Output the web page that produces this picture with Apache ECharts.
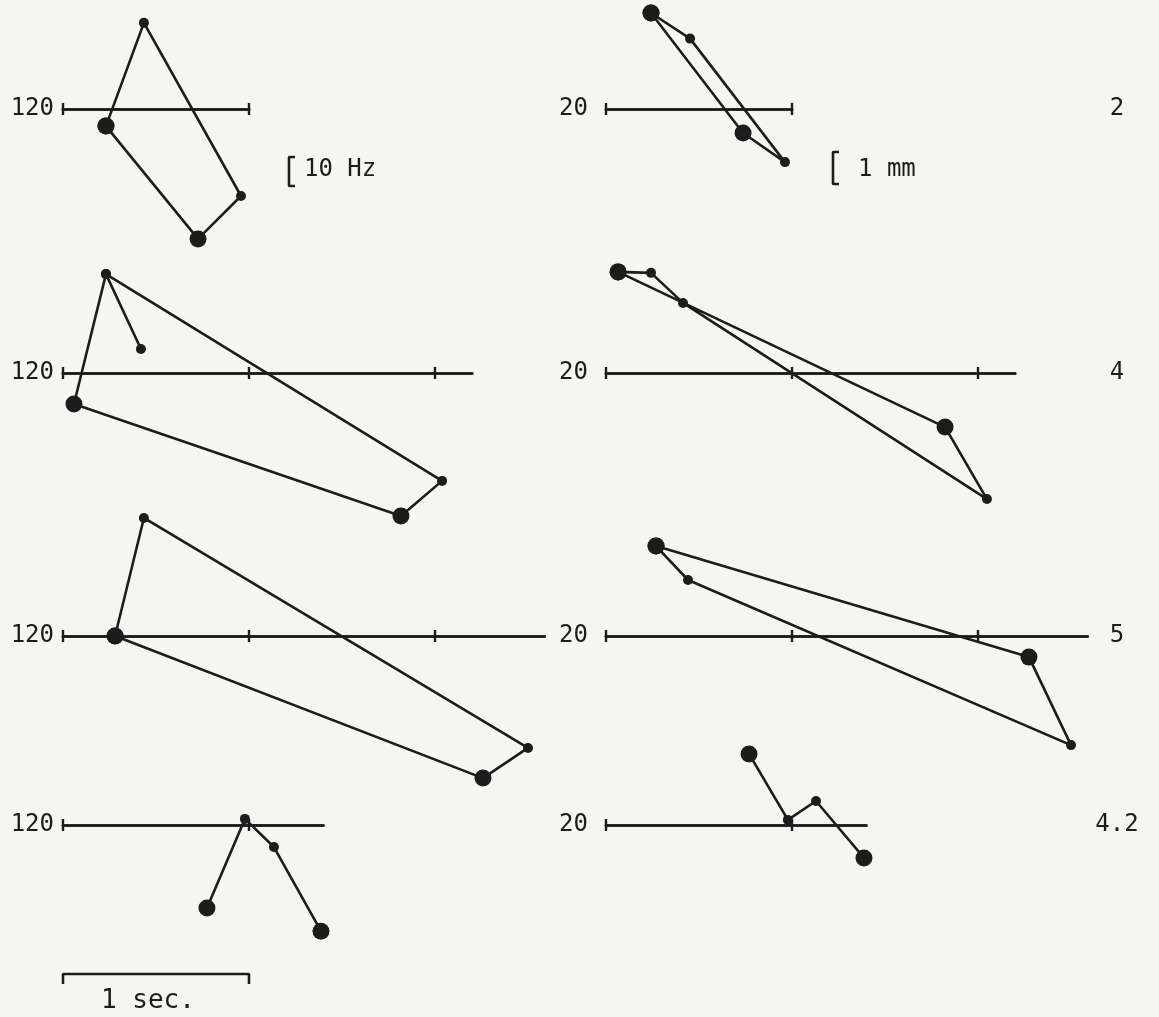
<!DOCTYPE html>
<html>
<head>
<meta charset="utf-8">
<script src="https://cdn.jsdelivr.net/npm/echarts@6/dist/echarts.min.js"></script>
<style>
  html, body { margin: 0; padding: 0; background: #f5f5f2; }
  #chart { width: 1159px; height: 1017px; }
</style>
</head>
<body>
<div id="chart"></div>
<script>
// Reference levels drawn as the baseline of each trace
const BASE_HZ = 120;   // fundamental frequency, Hz
const BASE_MM = 20;    // amplitude, mm

// Utterance labels, one per row
const ROW_LABELS = ['2', '4', '5', '4.2'];
// Length of each row's time baseline (s) and its 1-second ticks
const ROW_SPAN_S = [1.0, 2.2, 2.59, 1.4];
const TICK_S = [0, 1, 2];

// Row 1 — turning points (time s, value); major = large dot
const R1_T_HZ = [0.231, 0.435, 0.957, 0.726, 0.231];
const R1_HZ = [114.1, 149.7, 90.0, 75.2, 114.1];
const R1_MAJOR_HZ = [1, 0, 0, 1, 1];
const R1_T_MM = [0.242, 0.452, 0.962, 0.737, 0.242];
const R1_MM = [23.0, 22.2, 18.34, 19.25, 23.0];
const R1_MAJOR_MM = [1, 0, 0, 1, 1];

// Row 2
const R2_T_HZ = [0.419, 0.231, 2.038, 1.817, 0.059, 0.231];
const R2_HZ = [128.3, 154.1, 82.8, 70.7, 109.3, 154.1];
const R2_MAJOR_HZ = [0, 0, 0, 1, 1, 0];
const R2_T_MM = [0.065, 0.242, 0.414, 2.048, 1.823, 0.065];
const R2_MM = [23.16, 23.13, 22.19, 16.06, 18.31, 23.16];
const R2_MAJOR_MM = [1, 0, 0, 0, 1, 1];

// Row 3
const R3_T_HZ = [0.280, 0.435, 2.500, 2.258, 0.280];
const R3_HZ = [120.0, 160.7, 81.4, 71.0, 120.0];
const R3_MAJOR_HZ = [1, 0, 0, 1, 1];
const R3_T_MM = [0.269, 0.441, 2.500, 2.274, 0.269];
const R3_MM = [22.81, 21.75, 16.59, 19.34, 22.81];
const R3_MAJOR_MM = [1, 0, 0, 1, 1];

// Row 4
const R4_T_HZ = [0.774, 0.978, 1.134, 1.387];
const R4_HZ = [91.4, 122.1, 112.4, 83.4];
const R4_MAJOR_HZ = [1, 0, 0, 1];
const R4_T_MM = [0.769, 0.978, 1.129, 1.387];
const R4_MM = [22.22, 20.16, 20.75, 18.97];
const R4_MAJOR_MM = [1, 0, 0, 1];

// Calibration bars
const CAL_HZ = 10;   // Hz
const CAL_MM = 1;    // mm
const CAL_S = 1;     // s

const TRACES = [
  [[R1_T_HZ, R1_HZ, R1_MAJOR_HZ], [R1_T_MM, R1_MM, R1_MAJOR_MM]],
  [[R2_T_HZ, R2_HZ, R2_MAJOR_HZ], [R2_T_MM, R2_MM, R2_MAJOR_MM]],
  [[R3_T_HZ, R3_HZ, R3_MAJOR_HZ], [R3_T_MM, R3_MM, R3_MAJOR_MM]],
  [[R4_T_HZ, R4_HZ, R4_MAJOR_HZ], [R4_T_MM, R4_MM, R4_MAJOR_MM]]
];

// ---- layout ----
const INK = '#1c1c1c';
const FONT = '"DejaVu Sans Mono", "Liberation Mono", monospace';
const BASE_Y = [109, 373, 636, 825];      // baseline of each row, px
const X0 = [63, 606];                     // time origin of each column, px
const PX_PER_S = 186;
const PX_PER_UNIT = [2.9, 32];            // px per Hz, px per mm
const HALF = 100;                         // half height of each plot box, px
const BIG = 17, SMALL = 10;
const LINE_W = 2.6;

const grid = [], xAxis = [], yAxis = [], series = [];

TRACES.forEach((rowTraces, r) => {
  rowTraces.forEach(([tArr, vArr, major], c) => {
    const k = grid.length;
    const span = ROW_SPAN_S[r];
    const base = c === 0 ? BASE_HZ : BASE_MM;
    const lim = HALF / PX_PER_UNIT[c];
    grid.push({ left: X0[c], top: BASE_Y[r] - HALF, width: span * PX_PER_S, height: 2 * HALF });
    yAxis.push({
      gridIndex: k, type: 'value', min: -lim, max: lim,
      axisLine: { show: false }, axisTick: { show: false }, splitLine: { show: false },
      axisLabel: {
        customValues: [0], formatter: () => String(base),
        margin: c === 0 ? 9 : 18, color: INK, fontFamily: FONT, fontSize: 24
      }
    });
    const ticks = TICK_S.filter(s => s <= span + 1e-9);
    ['bottom', 'top'].forEach(pos => {
      xAxis.push({
        gridIndex: k, type: 'value', position: pos, min: 0, max: span,
        axisLine: { onZero: true, onZeroAxisIndex: k, lineStyle: { color: INK, width: LINE_W } },
        axisTick: { show: true, customValues: ticks, length: 6, lineStyle: { color: INK, width: 2.4 } },
        axisLabel: { show: false }, splitLine: { show: false }
      });
    });
    series.push({
      type: 'line', xAxisIndex: xAxis.length - 2, yAxisIndex: k, clip: false, z: 5,
      symbol: 'circle', showAllSymbol: true, silent: true,
      lineStyle: { color: INK, width: LINE_W }, itemStyle: { color: INK },
      data: tArr.map((t, i) => ({ value: [t, vArr[i] - base], symbolSize: major[i] ? BIG : SMALL }))
    });
  });
});

// Calibration marks, each in its own box scaled like the traces
function calBox(box, xMax, yMax, pts) {
  const k = grid.length;
  grid.push(box);
  xAxis.push({ gridIndex: k, type: 'value', min: 0, max: xMax, show: false });
  yAxis.push({ gridIndex: k, type: 'value', min: 0, max: yMax, show: false });
  series.push({
    type: 'line', xAxisIndex: xAxis.length - 1, yAxisIndex: k, clip: false, symbol: 'none', silent: true,
    lineStyle: { color: INK, width: LINE_W }, data: pts
  });
}
const SERIF = 6; // px
// [ 10 Hz
calBox({ left: 289, top: 157, width: SERIF, height: CAL_HZ * PX_PER_UNIT[0] }, 1, CAL_HZ,
  [[1, CAL_HZ], [0, CAL_HZ], [0, 0], [1, 0]]);
// [ 1 mm
calBox({ left: 833, top: 152, width: SERIF, height: CAL_MM * PX_PER_UNIT[1] }, 1, CAL_MM,
  [[1, CAL_MM], [0, CAL_MM], [0, 0], [1, 0]]);
// 1 sec bar with end caps turned down
calBox({ left: X0[0], top: 974, width: CAL_S * PX_PER_S, height: 10 }, CAL_S, 1,
  [[0, 0], [0, 1], [CAL_S, 1], [CAL_S, 0]]);

const textStyle = (extra) => Object.assign({ fill: INK, font: '24px ' + FONT, textVerticalAlign: 'middle' }, extra);
const graphic = [
  { type: 'text', left: 304, top: 158, style: textStyle({ text: CAL_HZ + ' Hz', textVerticalAlign: 'top' }) },
  { type: 'text', left: 858, top: 158, style: textStyle({ text: CAL_MM + ' mm', textVerticalAlign: 'top' }) },
  { type: 'text', left: 101, top: 988, style: textStyle({ text: CAL_S + ' sec.', textVerticalAlign: 'top', font: '26px ' + FONT }) }
];
ROW_LABELS.forEach((lab, r) => {
  graphic.push({
    type: 'text', x: 1117, y: BASE_Y[r],
    style: textStyle({ text: lab, textAlign: 'center' })
  });
});

const chart = echarts.init(document.getElementById('chart'));
chart.setOption({
  backgroundColor: '#f5f5f2',
  animation: false,
  grid, xAxis, yAxis, series, graphic
});
</script>
</body>
</html>
